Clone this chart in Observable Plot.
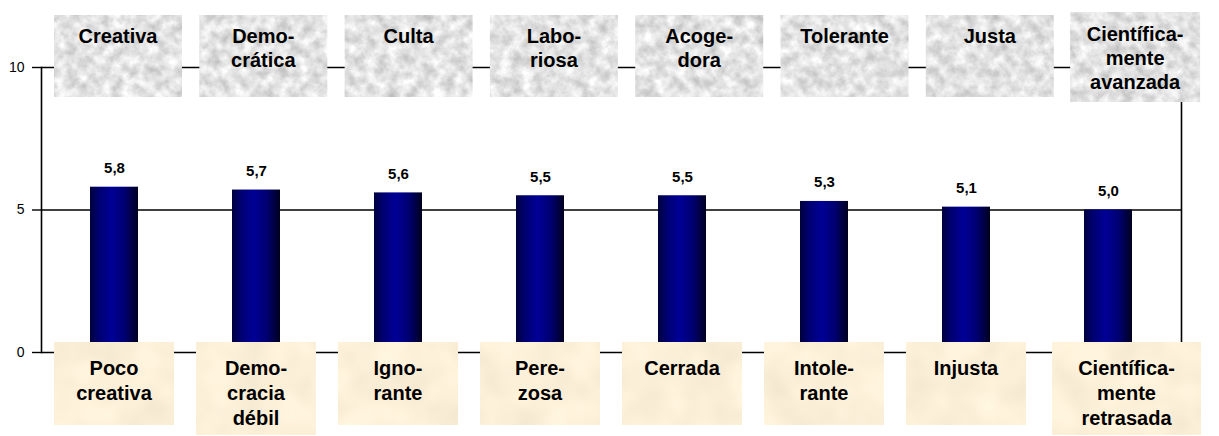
<!DOCTYPE html>
<html>
<head>
<meta charset="utf-8">
<script src="https://cdn.jsdelivr.net/npm/d3@7"></script>
<script src="https://cdn.jsdelivr.net/npm/@observablehq/plot@0.6"></script>
<style>
  body { margin: 0; background: #ffffff; }
  #chart svg { display: block; }
</style>
</head>
<body>
<div id="chart"></div>
<script>
// ---- data ----
const topLabels = ["Creativa", "Demo-\ncrática", "Culta", "Labo-\nriosa", "Acoge-\ndora", "Tolerante", "Justa", "Científica-\nmente\navanzada"];
const bottomLabels = ["Poco\ncreativa", "Demo-\ncracia\ndébil", "Igno-\nrante", "Pere-\nzosa", "Cerrada", "Intole-\nrante", "Injusta", "Científica-\nmente\nretrasada"];
const values = [5.8, 5.7, 5.6, 5.5, 5.5, 5.3, 5.1, 5.0];
const yTicks = [0, 5, 10];

const rows = topLabels.map((c, i) => ({cat: c, value: values[i], bottom: bottomLabels[i]}));
const fmt = v => v.toFixed(1).replace(".", ",");

const W = 1219, H = 436;
const FONT = "'Liberation Sans', Arial, sans-serif";

const plot = Plot.plot({
  width: W,
  height: H,
  marginLeft: 41,
  marginRight: 38,
  marginTop: 67,
  marginBottom: 84,
  style: {fontFamily: FONT, fontSize: "14px", background: "#ffffff", color: "#000"},
  x: {domain: topLabels, paddingInner: 0.66, paddingOuter: 0.33, axis: null},
  y: {domain: [0, 10], axis: null},
  marks: [
    Plot.ruleY(yTicks, {stroke: "#000", strokeWidth: 1.4}),
    Plot.frame({anchor: "left", stroke: "#000", strokeWidth: 1.6}),
    Plot.frame({anchor: "right", stroke: "#000", strokeWidth: 1.6}),
    Plot.axisY({ticks: yTicks, tickSize: 9, tickPadding: 8, fontSize: 14, label: null, tickFormat: d => String(d), stroke: "#000", strokeWidth: 1.4}),
    Plot.barY(rows, {x: "cat", y: "value", fill: "url(#barGrad)"}),
    Plot.text(rows, {x: "cat", y: "value", text: d => fmt(d.value), dy: -19, fontWeight: "bold", fontSize: 15, fill: "#000", letterSpacing: "2px"})
  ]
});

const svg = d3.select(plot);
svg.insert("defs", ":first-child").html(`
  <linearGradient id="barGrad" x1="0" y1="0" x2="1" y2="0">
    <stop offset="0%" stop-color="#00003c"/>
    <stop offset="18%" stop-color="#000070"/>
    <stop offset="45%" stop-color="#000096"/>
    <stop offset="72%" stop-color="#000072"/>
    <stop offset="100%" stop-color="#000020"/>
  </linearGradient>
  <filter id="grayTex" x="0" y="0" width="100%" height="100%" color-interpolation-filters="sRGB">
    <feTurbulence type="fractalNoise" baseFrequency="0.09" numOctaves="4" seed="7" result="n"/>
    <feColorMatrix in="n" type="matrix" values="0.36 0 0 0 0.71  0.36 0 0 0 0.71  0.36 0 0 0 0.71  0 0 0 0 1" result="c"/>
    <feComposite in="c" in2="SourceGraphic" operator="in"/>
  </filter>
  <filter id="beigeTex" x="0" y="0" width="100%" height="100%" color-interpolation-filters="sRGB">
    <feTurbulence type="fractalNoise" baseFrequency="0.03" numOctaves="2" seed="3" result="n"/>
    <feColorMatrix in="n" type="matrix" values="0.08 0 0 0 0.95  0.08 0 0 0 0.90  0.08 0 0 0 0.81  0 0 0 0 1" result="c"/>
    <feComposite in="c" in2="SourceGraphic" operator="in"/>
  </filter>
`);

const xs = plot.scale("x");
const bw = xs.bandwidth;
const center = c => xs.apply(c) + bw / 2;

const boxes = svg.append("g").attr("font-family", FONT).attr("font-weight", "bold").attr("font-size", 20).attr("fill", "#000");

rows.forEach((d, i) => {
  // top (positive) label box
  const tl = d.cat.split("\n");
  const tc = center(d.cat) + 4 + i * 3.3;
  const tw = tl.length > 2 ? 130 : 128;
  const ty = tl.length > 2 ? 12 : 15;
  const th = tl.length > 2 ? 90 : 82;
  boxes.append("rect").attr("x", tc - tw / 2).attr("y", ty).attr("width", tw).attr("height", th)
    .attr("fill", "#e2e2e2").attr("filter", "url(#grayTex)");
  const tt = boxes.append("text").attr("text-anchor", "middle");
  tl.forEach((line, j) => tt.append("tspan").attr("x", tc).attr("y", (tl.length > 2 ? 41 : 43) + j * 24).text(line));

  // bottom (negative) label box
  const bl = d.bottom.split("\n");
  const bc = center(d.cat);
  const wide = bl.some(l => l.length > 9);
  const bwid = wide ? 149 : 120;
  const bx = wide ? bc - 56 : bc - 60;
  const bh = bl.length > 2 ? 93 : 83;
  boxes.append("rect").attr("x", bx).attr("y", 342).attr("width", bwid).attr("height", bh)
    .attr("fill", "#fcefd8").attr("filter", "url(#beigeTex)");
  const bt = boxes.append("text").attr("text-anchor", "middle");
  bl.forEach((line, j) => bt.append("tspan").attr("x", bx + bwid / 2).attr("y", 375 + j * 25).text(line));
});

document.getElementById("chart").appendChild(plot);
</script>
</body>
</html>
